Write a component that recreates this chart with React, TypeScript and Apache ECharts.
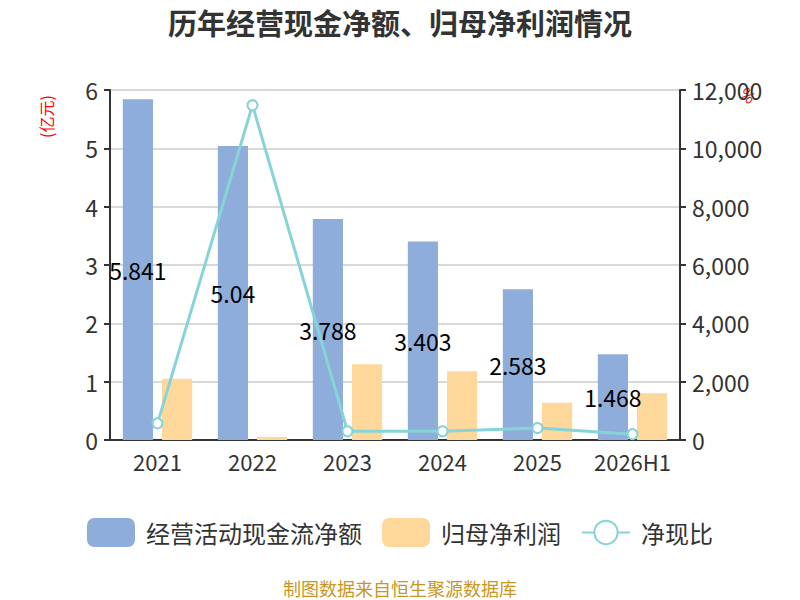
import { useEffect, useRef } from "react";
import * as echarts from "echarts";

const years = ["2021", "2022", "2023", "2024", "2025", "2026H1"];
const cashFlow = [5.841, 5.04, 3.788, 3.403, 2.583, 1.468];
const netProfit = [1.05, 0.05, 1.3, 1.18, 0.64, 0.8];
const ratio = [570, 11480, 300, 300, 410, 200];

const font = "'Noto Sans CJK SC', 'Noto Sans', sans-serif";

export default function App() {
  const containerRef = useRef<HTMLDivElement>(null);

  useEffect(() => {
    if (!containerRef.current) return;
    const chart = echarts.init(containerRef.current, null, { renderer: "svg" });

    chart.setOption({
      animation: false,
      backgroundColor: "#fff",
      textStyle: { fontFamily: font },
      title: {
        text: "历年经营现金净额、归母净利润情况",
        left: "center",
        top: 2,
        textStyle: { fontSize: 29, fontWeight: "bold", color: "#333", fontFamily: font },
      },
      legend: {
        bottom: 48,
        left: "center",
        itemWidth: 48,
        itemHeight: 29,
        itemGap: 20,
        textStyle: { fontSize: 24, color: "#333", fontFamily: font, padding: [0, 0, 0, 6] },
        data: [
          { name: "经营活动现金流净额", icon: "roundRect" },
          { name: "归母净利润", icon: "roundRect" },
          { name: "净现比" },
        ],
      },
      grid: { left: 110, right: 120, top: 90, bottom: 160 },
      xAxis: {
        type: "category",
        data: years,
        axisLine: { lineStyle: { color: "#333", width: 2 } },
        axisTick: { length: 6, lineStyle: { width: 2 } },
        axisLabel: { fontSize: 22, color: "#333", margin: 10, interval: 0 },
      },
      yAxis: [
        {
          type: "value",
          min: 0,
          max: 6,
          interval: 1,
          axisLine: { show: true, lineStyle: { color: "#333", width: 2 } },
          axisTick: { show: true, length: 6, lineStyle: { width: 2 } },
          axisLabel: { fontSize: 23, color: "#333", margin: 12 },
          splitLine: { lineStyle: { color: "#ccc", width: 1.5 } },
        },
        {
          type: "value",
          min: 0,
          max: 12000,
          interval: 2000,
          axisLine: { show: true, lineStyle: { color: "#333", width: 2 } },
          axisTick: { show: true, length: 6, lineStyle: { width: 2 } },
          axisLabel: { fontSize: 23, color: "#333", margin: 12 },
          splitLine: { show: false },
        },
      ],
      graphic: [
        {
          type: "text",
          x: 38,
          y: 138,
          rotation: Math.PI / 2,
          style: { text: "(亿元)", fill: "#f00", fontSize: 16, fontFamily: font },
        },
        {
          type: "text",
          x: 749,
          y: 84,
          rotation: -Math.PI / 4,
          style: { text: "%", fill: "#f00", fontSize: 16, fontFamily: font },
        },
        {
          type: "text",
          left: "center",
          bottom: 3,
          style: { text: "制图数据来自恒生聚源数据库", fill: "#c9961f", fontSize: 18, fontFamily: font },
        },
      ],
      series: [
        {
          name: "经营活动现金流净额",
          type: "bar",
          data: cashFlow,
          barGap: "30%",
          itemStyle: { color: "#8eaddb" },
          label: { show: true, position: "inside", color: "#000", fontSize: 23 },
        },
        {
          name: "归母净利润",
          type: "bar",
          data: netProfit,
          itemStyle: { color: "#fed89a" },
        },
        {
          name: "净现比",
          type: "line",
          yAxisIndex: 1,
          data: ratio,
          symbol: "emptyCircle",
          symbolSize: 10,
          lineStyle: { color: "#86d4d7", width: 3 },
          itemStyle: { color: "#86d4d7", borderWidth: 2 },
        },
      ],
    });

    return () => chart.dispose();
  }, []);

  return (
    <div
      ref={containerRef}
      style={{ position: "absolute", left: 0, top: 0, width: 800, height: 600 }}
    />
  );
}
